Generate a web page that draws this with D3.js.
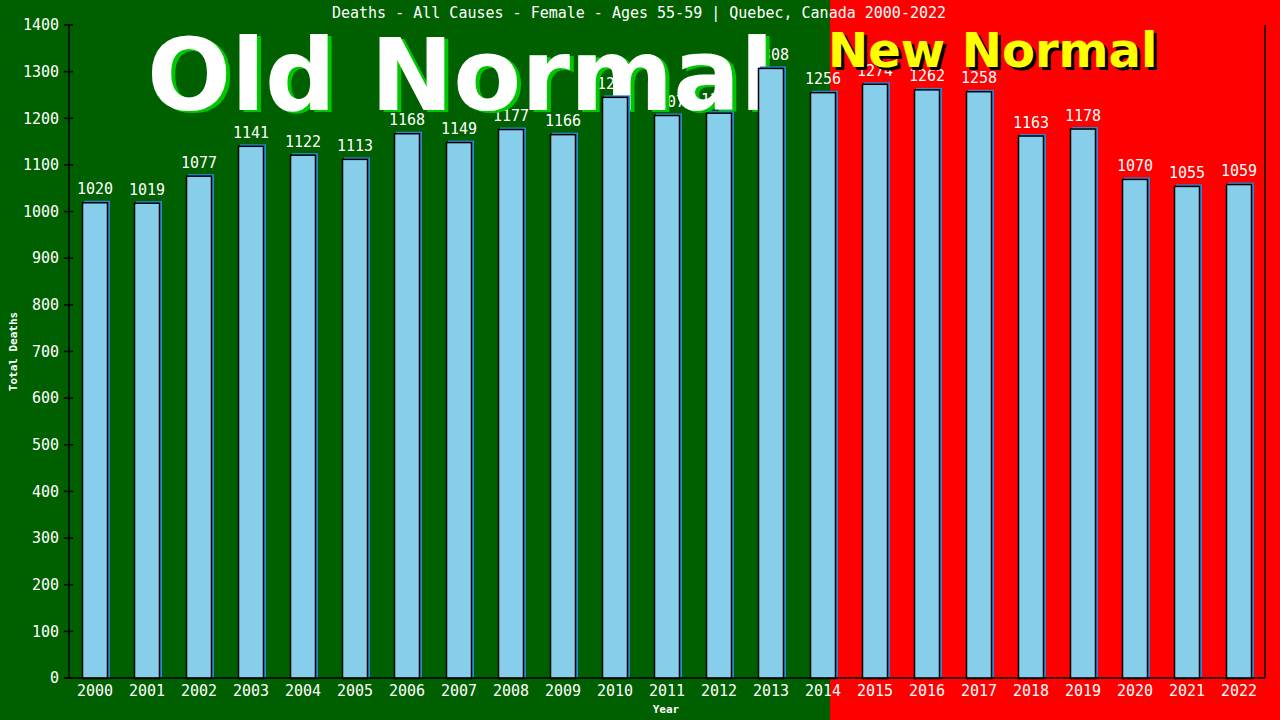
<!DOCTYPE html>
<meta charset="utf-8">
<body>
<script src="https://cdn.jsdelivr.net/npm/d3@7"></script>
<style>
    html, body {
        margin: 0;
        background: #006000;
    }
    text {
        font-family: "DejaVu Sans Mono", monospace;
    }
</style>
<script>
var years = ["2000", "2001", "2002", "2003", "2004", "2005", "2006", "2007",
    "2008", "2009", "2010", "2011", "2012", "2013", "2014", "2015", "2016",
    "2017", "2018", "2019", "2020", "2021", "2022"];
var deaths = [1020, 1019, 1077, 1141, 1122, 1113, 1168, 1149, 1177, 1166,
    1246, 1207, 1212, 1308, 1256, 1274, 1262, 1258, 1163, 1178, 1070, 1055, 1059];
var yTicks = [0, 100, 200, 300, 400, 500, 600, 700, 800, 900, 1000, 1100,
    1200, 1300, 1400];
var title = "Deaths - All Causes - Female - Ages 55-59 | Quebec, Canada 2000-2022";

var width = 1280,
    height = 720,
    plotLeft = 69,
    plotRight = 1265,
    plotTop = 25,
    plotBottom = 678,
    splitX = 830;

var x = d3.scaleBand()
    .domain(years)
    .range([plotLeft, plotRight])
    .paddingInner(0.5)
    .paddingOuter(0.25);

var y = d3.scaleLinear()
    .domain([0, 1400])
    .range([plotBottom, plotTop]);

var svg = d3.select("body").append("svg")
    .attr("width", width)
    .attr("height", height)
    .style("display", "block");

// old normal / new normal backgrounds
svg.append("rect")
    .attr("width", splitX).attr("height", height)
    .attr("fill", "#006000");
svg.append("rect")
    .attr("x", splitX).attr("width", width - splitX).attr("height", height)
    .attr("fill", "#ff0000");

// value labels (they sit under the big words)
svg.append("g").selectAll("text")
    .data(deaths)
    .enter().append("text")
    .attr("x", function(d, i) { return x(years[i]) + x.bandwidth() / 2; })
    .attr("y", function(d) { return y(d) - 8; })
    .attr("text-anchor", "middle")
    .attr("fill", "#fff")
    .style("font-size", "15px")
    .text(function(d) { return d; });

// big words
function bigWord(txt, tx, ty, size, fill, shadow, dx, dy) {
    var g = svg.append("g");
    [[shadow, dx, dy], [fill, 0, 0]].forEach(function(s) {
        g.append("text")
            .attr("x", tx + s[1]).attr("y", ty + s[2])
            .attr("fill", s[0])
            .style("font-family", "'DejaVu Sans', sans-serif")
            .style("font-weight", "bold")
            .style("font-size", size + "px")
            .text(txt);
    });
}
bigWord("Old Normal", 147, 110, 99, "#fff", "#00c800", 4, 2);
bigWord("New Normal", 828, 67, 48, "#ffff00", "#000", 3, 3);

// bars with a blue edge
var bars = svg.append("g").selectAll("g")
    .data(deaths)
    .enter().append("g");
bars.append("rect")
    .attr("x", function(d, i) { return x(years[i]) + 2; })
    .attr("y", function(d) { return y(d) - 1.5; })
    .attr("width", x.bandwidth())
    .attr("height", function(d) { return plotBottom - y(d) + 1.5; })
    .attr("fill", "#2f86d8");
bars.append("rect")
    .attr("x", function(d, i) { return x(years[i]) + 0.5; })
    .attr("y", function(d) { return y(d) + 0.5; })
    .attr("width", x.bandwidth() - 1)
    .attr("height", function(d) { return plotBottom - y(d); })
    .attr("fill", "#87ceeb")
    .attr("stroke", "#000")
    .attr("stroke-width", 1.5);

// axes
var axis = svg.append("g").attr("stroke", "#000").attr("stroke-width", 1.5);
axis.append("line")
    .attr("x1", plotLeft).attr("x2", plotLeft)
    .attr("y1", plotTop).attr("y2", plotBottom);
axis.append("line")
    .attr("x1", plotLeft - 5).attr("x2", plotRight)
    .attr("y1", plotBottom).attr("y2", plotBottom);
axis.append("line")
    .attr("x1", plotRight).attr("x2", plotRight)
    .attr("y1", plotTop).attr("y2", plotBottom);
axis.selectAll(".tick")
    .data(yTicks)
    .enter().append("line")
    .attr("x1", plotLeft - 5).attr("x2", plotLeft + 4)
    .attr("y1", function(d) { return y(d); })
    .attr("y2", function(d) { return y(d); });

svg.append("g").selectAll("text")
    .data(yTicks)
    .enter().append("text")
    .attr("x", plotLeft - 10)
    .attr("y", function(d) { return y(d); })
    .attr("dy", "0.35em")
    .attr("text-anchor", "end")
    .attr("fill", "#fff")
    .style("font-size", "15px")
    .text(function(d) { return d; });

svg.append("g").selectAll("text")
    .data(years)
    .enter().append("text")
    .attr("x", function(d) { return x(d) + x.bandwidth() / 2; })
    .attr("y", 696)
    .attr("text-anchor", "middle")
    .attr("fill", "#fff")
    .style("font-size", "15px")
    .text(function(d) { return d; });

// titles
svg.append("text")
    .attr("x", 639).attr("y", 18)
    .attr("text-anchor", "middle")
    .attr("fill", "#fff")
    .style("font-size", "15px")
    .text(title);

svg.append("text")
    .attr("x", 666).attr("y", 713)
    .attr("text-anchor", "middle")
    .attr("fill", "#fff")
    .style("font-size", "11px")
    .style("font-weight", "bold")
    .text("Year");

svg.append("text")
    .attr("transform", "translate(17," + ((plotTop + plotBottom) / 2) + ") rotate(-90)")
    .attr("text-anchor", "middle")
    .attr("fill", "#fff")
    .style("font-size", "11px")
    .style("font-weight", "bold")
    .text("Total Deaths");
</script>
